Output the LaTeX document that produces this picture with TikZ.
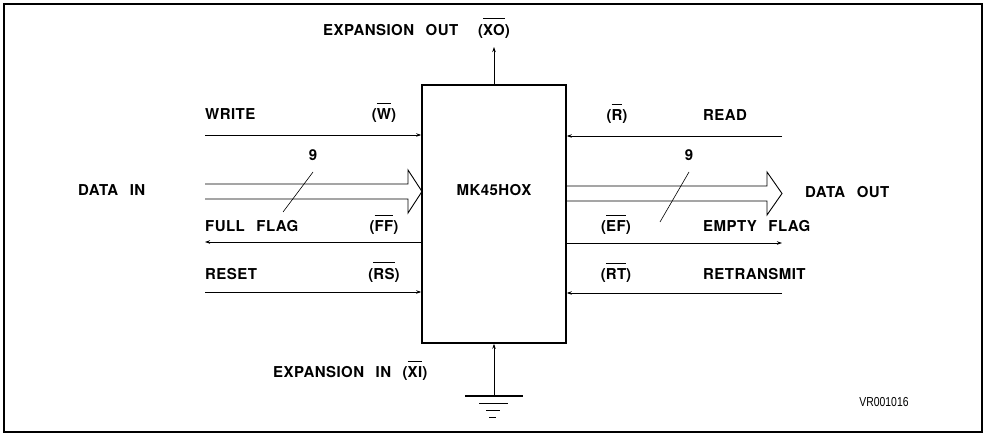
\documentclass[tikz,border=0pt]{standalone}
\usepackage{fontspec}
\setmainfont{TeX Gyre Heros}[LetterSpace=3,WordSpace=2.5]
\newfontfamily\codefont{Liberation Sans}
\usetikzlibrary{arrows.meta}
\newcommand\ovl[1]{\setbox0\hbox{#1}\rlap{\smash{\raise\dimexpr\ht0+5pt\relax\hbox{\vrule width\wd0 height0.9pt depth0pt}}}\box0}
\tikzset{
  sig/.style={font=\fontsize{15}{17}\selectfont\bfseries, inner sep=0pt, text height=11pt, text depth=0pt},
  sigline/.style={line width=0.8pt, -{Stealth[length=5pt,width=3.5pt]}},
  bus/.style={line width=0.9pt, line join=miter},
  chip/.style={draw, line width=1.6pt, minimum width=144pt, minimum height=258pt}
}
\begin{document}
\begin{tikzpicture}[x=1pt,y=-1pt]
	\useasboundingbox (0,0) rectangle (986,435);
	\draw[line width=1.3pt] (4,4) rectangle (982,432);
	\node[chip] (fifo) at (494,214) {};
	\node[sig] (name) at (494,190) {MK45HOX};
	% free ends of the signal lines
	\coordinate (w) at (205,135);
	\coordinate (ff) at (205,242);
	\coordinate (rs) at (205,292);
	\coordinate (r) at (782,136);
	\coordinate (ef) at (782,243);
	\coordinate (rt) at (782,293);
	\coordinate (xo) at (494,47);
	\coordinate (gnd) at (494,396);
	\draw[sigline] (w) -- (w -| fifo.west);
	\draw[sigline] (ff -| fifo.west) -- (ff);
	\draw[sigline] (rs) -- (rs -| fifo.west);
	\draw[sigline] (r) -- (r -| fifo.east);
	\draw[sigline] (ef -| fifo.east) -- (ef);
	\draw[sigline] (rt) -- (rt -| fifo.east);
	\draw[sigline] (fifo.north) -- (xo);
	\draw[sigline] (gnd) -- (fifo.south);
	% ground
	\draw[line width=1.2pt] (465,396) -- (523,396);
	\draw[line width=0.8pt] (479,403) -- (508,403);
	\draw[line width=0.7pt] (486,410) -- (500,410);
	\draw[line width=0.7pt] (489,417) -- (496,417);
	% data buses
	\draw[bus] (205,184) -- (408,184) -- (408,170) -- (422,191.5) -- (408,213) -- (408,199) -- (205,199);
	\draw[bus] (566,186) -- (767,186) -- (767,172) -- (782,193.5) -- (767,215) -- (767,201) -- (566,201);
	\draw[line width=0.6pt] (283,212) -- (313,172);
	\draw[line width=0.6pt] (660,222) -- (689,172);
	\node[sig] (nin) at (313,155) {9};
	\node[sig] (nout) at (689,155) {9};
	% labels
	\node[sig, anchor=west] (xolbl) at (323,30) {EXPANSION OUT};
	\node[sig] (xosig) at (494,30) {(\ovl{XO})};
	\node[sig, anchor=west] (wlbl) at (205,114) {WRITE};
	\node[sig] (wsig) at (384,114) {(\ovl{W})};
	\node[sig, anchor=west] (dinlbl) at (78,190) {DATA IN};
	\node[sig, anchor=west] (fflbl) at (205,226) {FULL FLAG};
	\node[sig] (ffsig) at (384,226) {(\ovl{FF})};
	\node[sig, anchor=west] (rslbl) at (205,274) {RESET};
	\node[sig] (rssig) at (384,274) {(\ovl{RS})};
	\node[sig, anchor=west] (xilbl) at (273,372) {EXPANSION IN (\ovl{XI})};
	\node[sig] (rsig) at (617,115) {(\ovl{R})};
	\node[sig, anchor=west] (rlbl) at (703,115) {READ};
	\node[sig, anchor=west] (doutlbl) at (805,192) {DATA OUT};
	\node[sig] (efsig) at (616,226) {(\ovl{EF})};
	\node[sig, anchor=west] (eflbl) at (703,226) {EMPTY FLAG};
	\node[sig] (rtsig) at (616,274) {(\ovl{RT})};
	\node[sig, anchor=west] (rtlbl) at (703,274) {RETRANSMIT};
	\node[font=\codefont\fontsize{13}{15}\selectfont, inner sep=0pt, xscale=0.8] (code) at (884,402) {VR001016};
\end{tikzpicture}
\end{document}
